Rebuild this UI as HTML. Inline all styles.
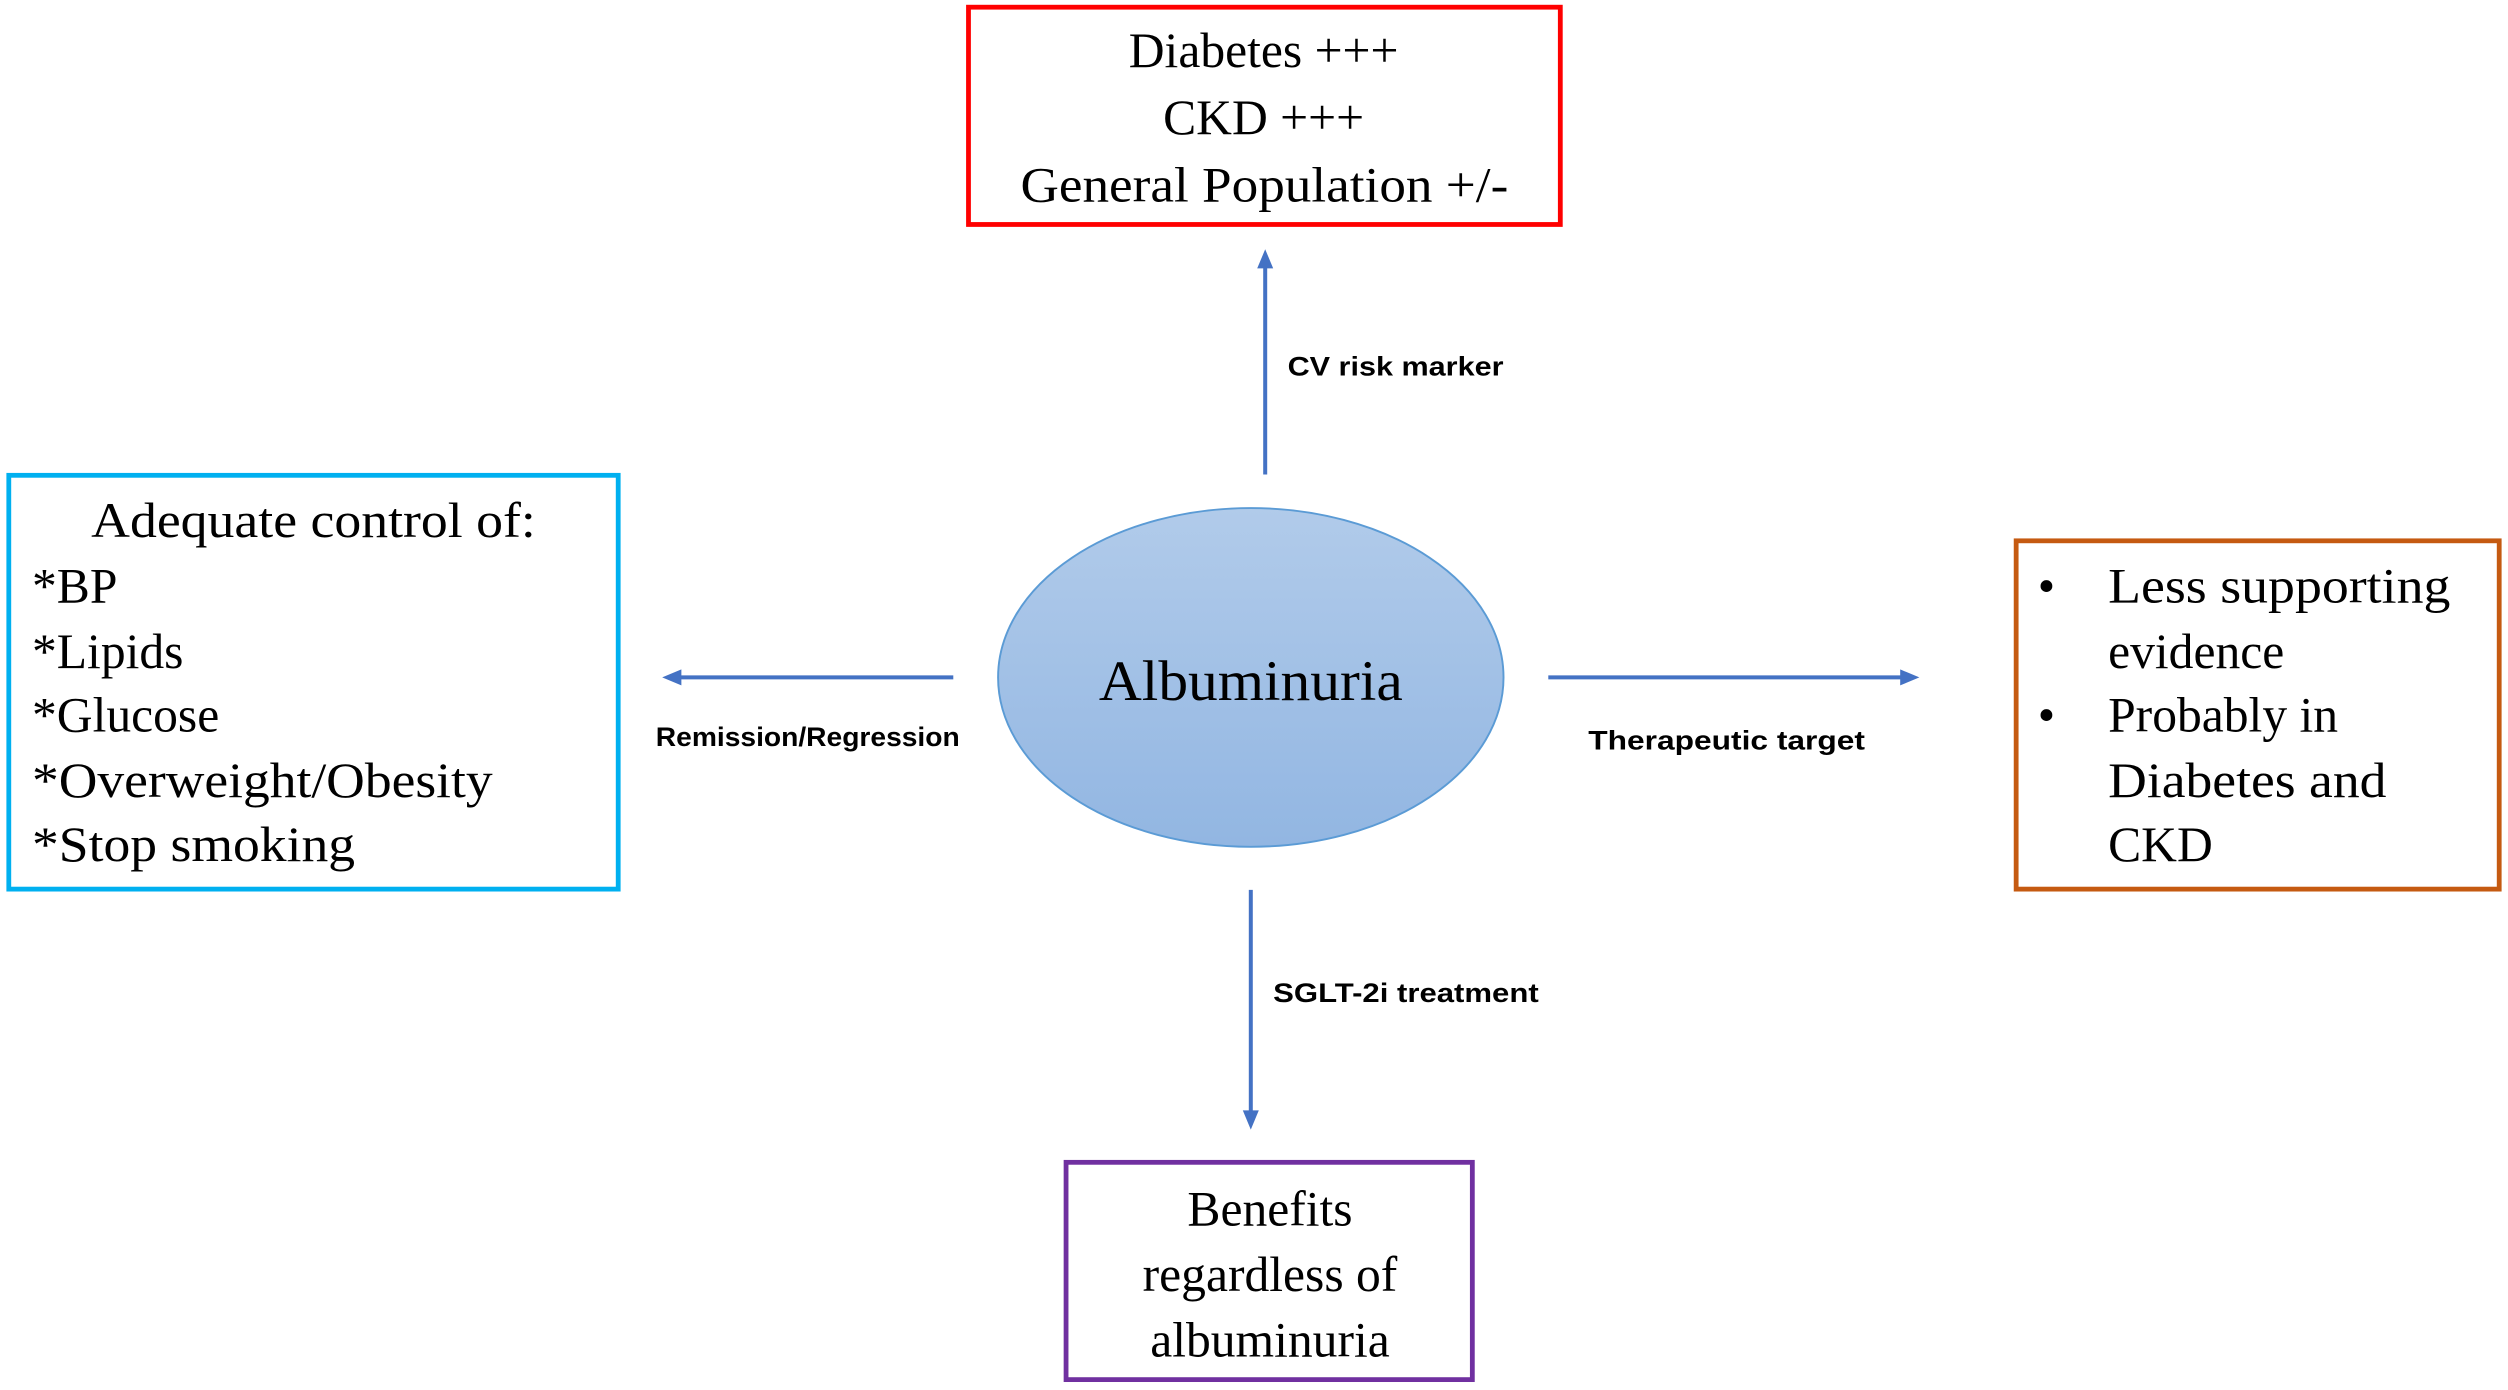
<!DOCTYPE html>
<html><head><meta charset="utf-8"><style>html,body{margin:0;padding:0;background:#fff;width:2508px;height:1390px;overflow:hidden}svg{display:block}
.serif{font-family:"Liberation Serif","Times New Roman",serif}
.sans{font-family:"Liberation Sans",Arial,sans-serif}
</style></head>
<body>
<svg width="2508" height="1390" viewBox="0 0 1568 870" preserveAspectRatio="none" xmlns="http://www.w3.org/2000/svg">
<defs>
<linearGradient id="g" x1="0" y1="0" x2="0" y2="1"><stop offset="0" stop-color="#b1cbea"/><stop offset="1" stop-color="#92b6e2"/></linearGradient>
</defs>
<g fill="none" stroke-width="3">
<rect x="605.5" y="4.5" width="370" height="136" stroke="#ff0000"/>
<rect x="5.5" y="297.5" width="381" height="259" stroke="#00b0f0"/>
<rect x="1260.5" y="338.5" width="302" height="218" stroke="#c55a11"/>
<rect x="666.5" y="727.5" width="254" height="136" stroke="#7030a0"/>
</g>
<ellipse cx="782" cy="424" rx="158" ry="106" fill="url(#g)" stroke="#5b9bd5" stroke-width="1.2"/>
<g stroke="#4472c4" stroke-width="2.5" fill="#4472c4">
<line x1="791" y1="297" x2="791" y2="166"/><polygon points="791,156 786,168 796,168" stroke="none"/>
<line x1="596" y1="424" x2="424" y2="424"/><polygon points="414,424 426,419 426,429" stroke="none"/>
<line x1="968" y1="424" x2="1190" y2="424"/><polygon points="1200,424 1188,419 1188,429" stroke="none"/>
<line x1="782" y1="557" x2="782" y2="697"/><polygon points="782,707 777,695 787,695" stroke="none"/>
</g>
<g class="serif" font-size="31" fill="#000">
<text x="790" y="42" text-anchor="middle">Diabetes +++</text>
<text x="790" y="84" text-anchor="middle">CKD +++</text>
<text x="638" y="126" textLength="305" lengthAdjust="spacingAndGlyphs">General Population +/-</text>
<text x="57" y="336" textLength="278" lengthAdjust="spacingAndGlyphs">Adequate control of:</text>
<text x="20" y="377">*BP</text>
<text x="20" y="418">*Lipids</text>
<text x="20" y="458">*Glucose</text>
<text x="20" y="499" textLength="288" lengthAdjust="spacingAndGlyphs">*Overweight/Obesity</text>
<text x="20" y="539" textLength="202" lengthAdjust="spacingAndGlyphs">*Stop smoking</text>
<text x="1274" y="377">•</text>
<text x="1318" y="377" textLength="214" lengthAdjust="spacingAndGlyphs">Less supporting</text>
<text x="1318" y="418">evidence</text>
<text x="1274" y="458">•</text>
<text x="1318" y="458">Probably in</text>
<text x="1318" y="499" textLength="174" lengthAdjust="spacingAndGlyphs">Diabetes and</text>
<text x="1318" y="539">CKD</text>
<text x="794" y="767" text-anchor="middle">Benefits</text>
<text x="794" y="808" text-anchor="middle">regardless of</text>
<text x="794" y="849" text-anchor="middle">albuminuria</text>
<text x="782" y="438" text-anchor="middle" font-size="36" textLength="190" lengthAdjust="spacingAndGlyphs">Albuminuria</text>
</g>
<g class="sans" font-size="17" font-weight="bold" fill="#000">
<text x="805" y="235" textLength="135" lengthAdjust="spacingAndGlyphs">CV risk marker</text>
<text x="410" y="467" textLength="190" lengthAdjust="spacingAndGlyphs">Remission/Regression</text>
<text x="993" y="469" textLength="173" lengthAdjust="spacingAndGlyphs">Therapeutic target</text>
<text x="796" y="627" textLength="166" lengthAdjust="spacingAndGlyphs">SGLT-2i treatment</text>
</g>
</svg>
</body></html>
